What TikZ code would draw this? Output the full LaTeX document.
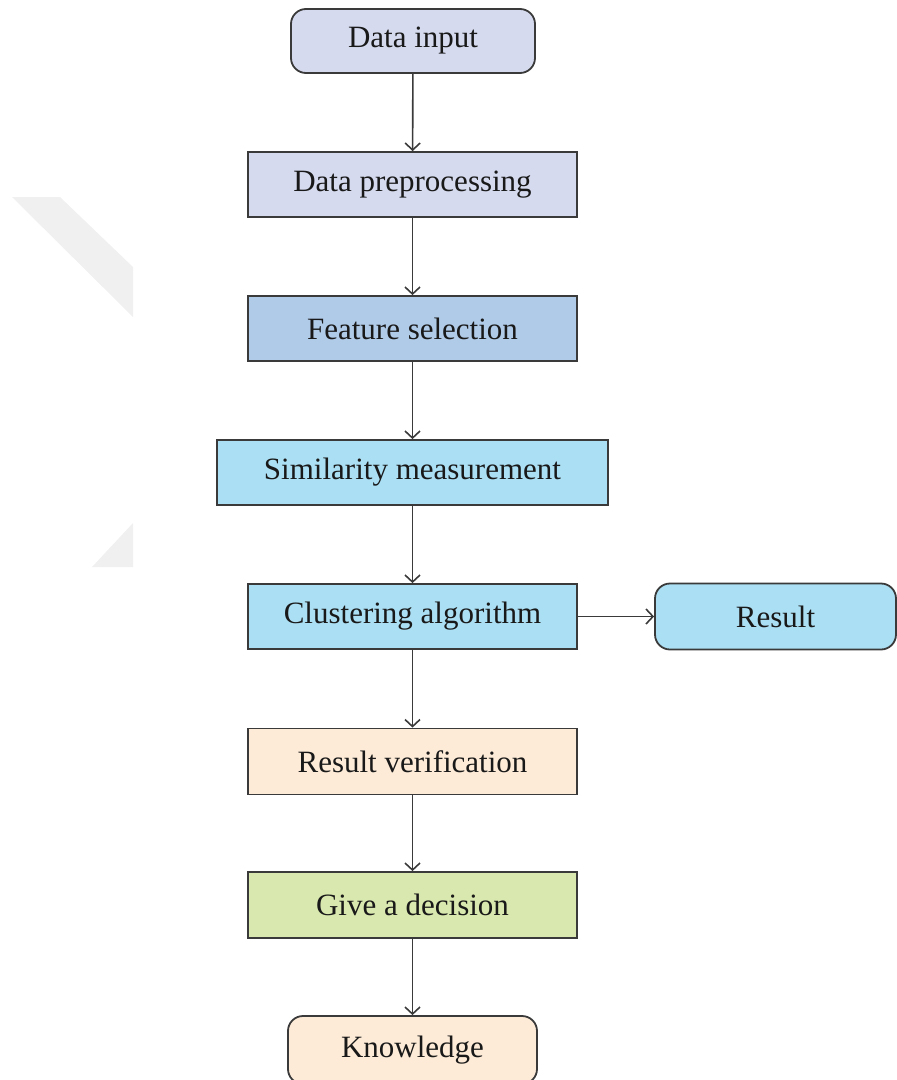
\documentclass[tikz,border=0pt]{standalone}
\usepackage{fontspec}
\setmainfont{Liberation Serif}
\usetikzlibrary{arrows.meta}
\definecolor{lavender}{HTML}{D5DAEE}
\definecolor{steelblue}{HTML}{B0CBE8}
\definecolor{skyblue}{HTML}{ABDFF3}
\definecolor{peach}{HTML}{FDEBD7}
\definecolor{lime}{HTML}{D9E8AE}
\definecolor{edge}{HTML}{3A3A3A}
\definecolor{faintgrey}{HTML}{F0F0F0}
\tikzset{
  box/.style={draw=edge, line width=1.8bp, inner sep=0pt,
    font=\fontsize{31bp}{35bp}\selectfont, text=black!90},
  roundbox/.style={box, rounded corners=15bp},
  flow/.style={draw=edge, line width=1.6bp,
    -{Straight Barb[length=7bp,width=15bp,line width=1.6bp]}}
}
\begin{document}
\begin{tikzpicture}[x=1bp, y=-1bp]
  \useasboundingbox (0,0) rectangle (897,1080);
  % faint background band and wedge
  \fill[faintgrey] (12,197) -- (60,197) -- (133,267) -- (133,317) -- cycle;
  \fill[faintgrey] (133,523) -- (133,567) -- (92,567) -- cycle;

  \node[roundbox, fill=lavender, minimum width=244bp, minimum height=64bp] (input) at (413,41) {Data input};
  \node[box, fill=lavender, minimum width=329bp, minimum height=65bp] (prep) at (412.5,184.5) {Data preprocessing};
  \node[box, fill=steelblue, minimum width=329bp, minimum height=65bp] (feat) at (412.5,328.5) {Feature selection};
  \node[box, fill=skyblue, minimum width=391bp, minimum height=65bp] (sim) at (412.5,472.5) {Similarity measurement};
  \node[box, fill=skyblue, minimum width=329bp, minimum height=65bp] (clus) at (412.5,616.5) {Clustering algorithm};
  \node[roundbox, fill=skyblue, minimum width=241bp, minimum height=66bp] (res) at (775.5,616.5) {Result};
  \node[box, fill=peach, minimum width=329bp, minimum height=66bp] (verif) at (412.5,761.5) {Result verification};
  \node[box, fill=lime, minimum width=329bp, minimum height=66bp] (dec) at (412.5,905) {Give a decision};
  \node[roundbox, fill=peach, minimum width=249bp, minimum height=68bp] (know) at (412.5,1050) {Knowledge};

  \draw[flow] (input) -- (prep);
  \draw[flow] (prep) -- (feat);
  \draw[flow] (feat) -- (sim);
  \draw[flow] (sim) -- (clus);
  \draw[flow] (clus) -- (verif);
  \draw[flow] (verif) -- (dec);
  \draw[flow] (dec) -- (know);
  \draw[flow] (clus) -- (res);
\end{tikzpicture}
\end{document}
